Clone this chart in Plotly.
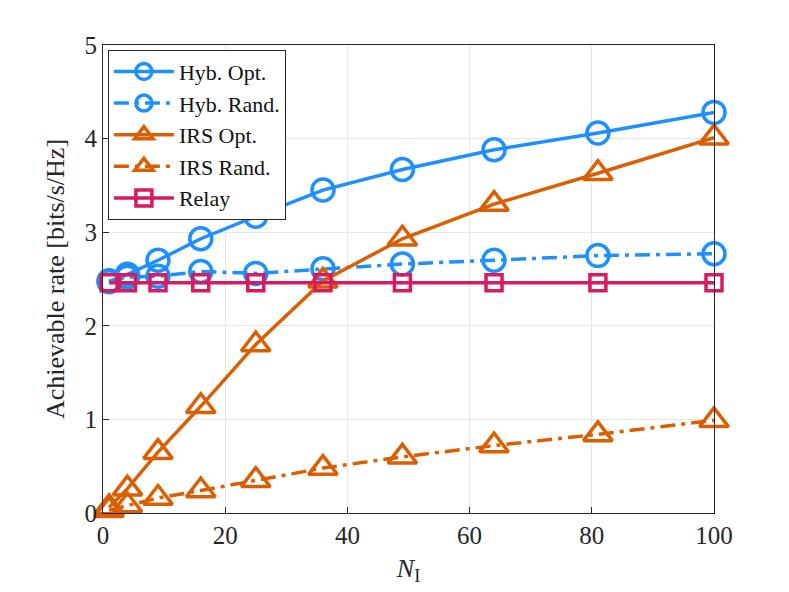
import plotly.graph_objects as go

# N_I values and achievable rates
n_irs = [1, 4, 9, 16, 25, 36, 49, 64, 81, 100]
hyb_opt = [2.47, 2.55, 2.70, 2.93, 3.17, 3.45, 3.67, 3.88, 4.06, 4.28]
hyb_rand = [2.48, 2.52, 2.53, 2.58, 2.56, 2.61, 2.66, 2.70, 2.75, 2.77]
irs_opt = [0.06, 0.26, 0.65, 1.14, 1.80, 2.48, 2.93, 3.30, 3.63, 4.01]
irs_rand = [0.03, 0.08, 0.16, 0.24, 0.35, 0.48, 0.60, 0.72, 0.84, 0.99]
relay = [2.46] * len(n_irs)

blue = "#1E8FFF"
orange = "#D95F02"
crimson = "#D81B60"
font = "Liberation Serif"
dashdot = "15px,6px,4px,6px"

series = [
    ("Hyb. Opt.", hyb_opt, blue, "solid", "circle-open", 22),
    ("Hyb. Rand.", hyb_rand, blue, dashdot, "circle-open", 22),
    ("IRS Opt.", irs_opt, orange, "solid", "triangle-up-open", 25),
    ("IRS Rand.", irs_rand, orange, dashdot, "triangle-up-open", 25),
    ("Relay", relay, crimson, "solid", "square-open", 16),
]

fig = go.Figure()
for name, ys, col, dash, sym, size in series:
    fig.add_trace(go.Scatter(
        x=n_irs, y=ys, name=name, mode="lines+markers",
        line=dict(color=col, width=3.5, dash=dash),
        marker=dict(symbol=sym, size=size, color=col, line=dict(width=3.5, color=col)),
        cliponaxis=False,
    ))

axis_common = dict(
    showline=True, linecolor="#262626", linewidth=1, mirror=True,
    ticks="inside", ticklen=6, tickcolor="#262626",
    showgrid=True, gridcolor="#E6E6E6", gridwidth=1,
    zeroline=False, automargin=False,
    tickfont=dict(family=font, size=25, color="#262626"),
)

# page body has an 8px margin, so the figure is shrunk and shifted to match
fig.update_layout(
    width=781, height=584,
    margin=dict(l=95, r=75, t=37, b=79),
    paper_bgcolor="white", plot_bgcolor="white",
    font=dict(family=font, size=24, color="#262626"),
    xaxis=dict(range=[0, 100], dtick=20,
               title=dict(text="<i>N</i><sub>I</sub>", font=dict(family=font, size=26), standoff=10),
               **axis_common),
    yaxis=dict(range=[0, 5], dtick=1,
               title=dict(text="Achievable rate [bits/s/Hz]", font=dict(family=font, size=26), standoff=12),
               **axis_common),
    legend=dict(x=0.008, y=0.99, xanchor="left", yanchor="top",
                bgcolor="white", bordercolor="#262626", borderwidth=1,
                font=dict(family=font, size=22, color="#111111"),
                itemwidth=60, tracegroupgap=0),
    showlegend=True,
)

fig.write_html("out.html")
